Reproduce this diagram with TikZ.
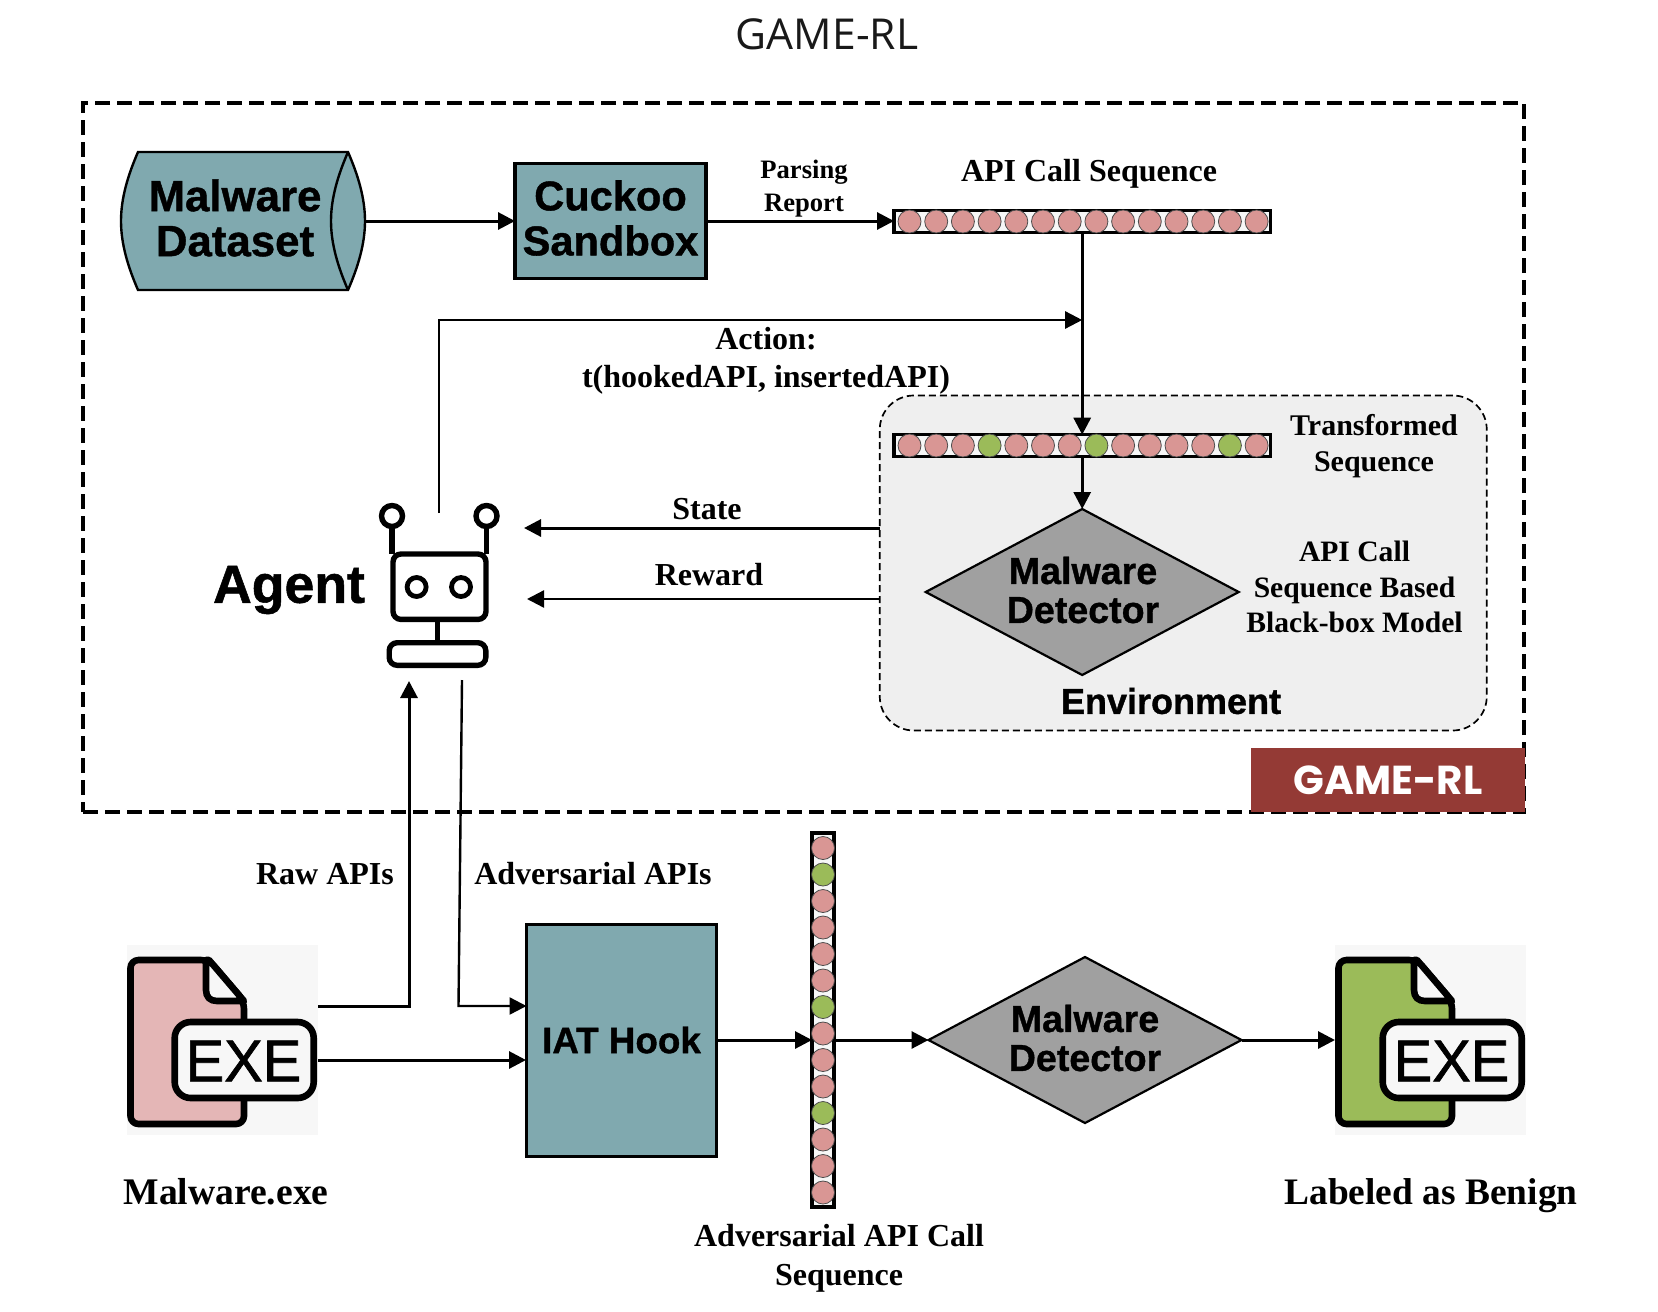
\documentclass[tikz,border=0pt]{standalone}
\usepackage{fontspec}
\usepackage{graphicx}
\setmainfont{Liberation Serif}
\setsansfont{Liberation Sans}[BoldFeatures={FakeBold=1}]
\newfontfamily\titlefont{Open Sans}
\newfontfamily\boxfont{Poppins}
\newfontfamily\exefont{Liberation Sans}[FakeBold=1.2]
\usetikzlibrary{arrows.meta,shapes.geometric,calc}
\definecolor{tealbox}{HTML}{80A9AF}
\definecolor{diamondgray}{HTML}{A0A0A0}
\definecolor{envgray}{HTML}{EFEFEF}
\definecolor{pinkdot}{HTML}{D99694}
\definecolor{greendot}{HTML}{9BBB59}
\definecolor{redbox}{HTML}{943A35}
\definecolor{pinkfile}{HTML}{E4B6B6}
\definecolor{iconbg}{HTML}{F7F7F7}
\newcommand{\fs}[2]{\fontsize{#1pt}{#2pt}\selectfont}
\tikzset{
  every node/.style={inner sep=0pt,outer sep=0pt},
  flow/.style={line width=1.5pt,-{Triangle[length=8.5pt,width=8.5pt]}},
  thinflow/.style={line width=1.2pt,-{Triangle[length=8.5pt,width=8.5pt]}},
  sanslabel/.style={font=\sffamily\bfseries,align=center},
  seriflabel/.style={font=\rmfamily\bfseries,align=center},
  detector/.style={diamond,aspect=1.9,draw,line width=1.1pt,fill=diamondgray,minimum width=156.5pt,minimum height=83pt},
  seqbar/.style={draw,line width=1.6pt,fill=iconbg},
  seqdot/.style={circle,draw=black!70,line width=.4pt,fill=pinkdot,minimum size=11.5pt},
  seqgreen/.style={seqdot,fill=greendot},
  robot/.style={draw,line width=2.7pt},
  filestroke/.style={draw,line width=3.3pt,line join=round},
}
\newcommand{\exeicon}[3]{% name, x shift, fill
  \begin{scope}[shift={(#2,0)}]
    \node[fill=iconbg,minimum width=95.5pt,minimum height=95pt] (#1) at (222.5,1040) {};
    \draw[filestroke,fill=#3,rounded corners=4pt] (130.5,960) -- (209,960) -- (244,1001) -- (244,1124) -- (130.5,1124) -- cycle;
    \draw[filestroke,fill=iconbg,line join=round] (209,960) -- (244,1001) -- (217,1001)
      .. controls (210,1001) and (206,997) .. (206,990) -- (206,960) -- cycle;
    \node[filestroke,fill=iconbg,rounded corners=8pt,minimum width=69.5pt,minimum height=38pt] (#1label) at (244.2,1060) {};
    \node[font=\exefont\fs{29.5}{30}] (#1text) at (243.5,1061) {\scalebox{.98}[1]{EXE}};
  \end{scope}
}
\begin{document}
\begin{tikzpicture}[x=.5pt,y=-.5pt]
\useasboundingbox (0,0) rectangle (1658,1311);

% title
\node[font=\titlefont\fs{21.3}{24},text=black!90] (title) at (827,34) {GAME-RL};

% outer frame
\node[draw,dash pattern=on 7.5pt off 3.5pt,line width=1.6pt,minimum width=720.5pt,minimum height=354.5pt] (frame) at (803.5,457.5) {};
\node[fill=redbox,minimum width=137pt,minimum height=32pt,text=white,font=\boxfont\bfseries\fs{20.2}{24}] (gamebox) at (1388,780) {GAME-RL};

% environment
\node[draw,fill=envgray,dash pattern=on 3.5pt off 2pt,line width=.85pt,rounded corners=17pt,minimum width=303.5pt,minimum height=167.5pt] (env) at (1183.25,563) {};
\node[sanslabel,font=\sffamily\bfseries\fs{18}{20}] (envtext) at (1171,701) {Environment};

% top row
\draw[line width=1.2pt,fill=tealbox] (138,152) -- (348,152) .. controls (358,175) and (365,198) .. (365,221)
  .. controls (365,244) and (358,267) .. (348,290) -- (138,290) .. controls (128,267) and (121,244) .. (121,221)
  .. controls (121,198) and (128,175) .. (138,152) -- cycle;
\draw[line width=1.2pt] (348,152) .. controls (338,175) and (331,198) .. (331,221) .. controls (331,244) and (338,267) .. (348,290);
\node[minimum width=122pt,minimum height=69pt] (dataset) at (243,221) {};
\node[sanslabel,font=\sffamily\bfseries\fs{21.9}{22.5}] (datasettext) at (235,218) {Malware\\Dataset};
\node[draw,line width=1.8pt,fill=tealbox,minimum width=95.5pt,minimum height=57.5pt] (cuckoo) at (610.5,221) {};
\node[sanslabel,font=\sffamily\bfseries\fs{20.8}{22.5}] (cuckootext) at (610.5,218) {Cuckoo\\Sandbox};
\node[seriflabel,font=\rmfamily\bfseries\fs{13.3}{16.5}] (parsing) at (804,188.5) {Parsing\\Report};
\node[seriflabel,font=\rmfamily\bfseries\fs{16}{18}] (apilabel) at (1089,174) {API Call Sequence};

\node[seqbar,minimum width=188.2pt,minimum height=10.8pt] (seqA) at (1082.2,221.5) {};
\foreach \i in {0,...,13} \node[seqdot] (a\i) at ({909.5+26.7*\i},221.5) {};

\node[seqbar,minimum width=188.2pt,minimum height=10.8pt] (seqB) at (1082.2,445.5) {};
\foreach \i/\c in {0/seqdot,1/seqdot,2/seqdot,3/seqgreen,4/seqdot,5/seqdot,6/seqdot,7/seqgreen,8/seqdot,9/seqdot,10/seqdot,11/seqdot,12/seqgreen,13/seqdot}
  \node[\c] (b\i) at ({909.5+26.7*\i},445.5) {};

\node[seriflabel,font=\rmfamily\bfseries\fs{15}{18}] (transformed) at (1374,446) {Transformed\\Sequence};
\node[detector] (detA) at (1082.2,592) {};
\node[sanslabel,font=\sffamily\bfseries\fs{18.8}{19.5}] (detAtext) at (1083,590) {Malware\\Detector};
\node[seriflabel,font=\rmfamily\bfseries\fs{14.8}{17.7}] (blackbox) at (1354.5,587) {API Call\\Sequence Based\\Black-box Model};

\draw[flow] (dataset.east) -- (cuckoo.west);
\draw[flow] (cuckoo.east) -- (cuckoo.east -| seqA.west);
\draw[flow] (seqA.south) -- (seqB.north);
\draw[flow] (seqB.south) -- (detA.north);

% agent
\node[font=\sffamily\bfseries\fs{26.8}{28}] (agent) at (289,590) {Agent};
\node[circle,robot,minimum size=10.5pt] (antL) at (392,516) {};
\node[circle,robot,minimum size=10.5pt] (antR) at (486.5,516) {};
\node[robot,rounded corners=4pt,minimum width=46.5pt,minimum height=32.7pt] (head) at (439.5,586.7) {};
\node[circle,draw,line width=2.4pt,minimum size=9.5pt] (eyeL) at (416.6,587) {};
\node[circle,draw,line width=2.4pt,minimum size=9.5pt] (eyeR) at (461,587) {};
\node[robot,rounded corners=4pt,minimum width=48.3pt,minimum height=11.3pt] (base) at (437.5,654) {};
\draw[robot] (antL.south) -- (antL.south |- head.north);
\draw[robot] (antR.south) -- (antR.south |- head.north);
\draw[robot] (head.south -| base.north) -- (base.north);

\coordinate (agentTop) at (439,513);
\coordinate (join) at (seqA.south |- 0,320);
\coordinate (stateTo) at (524,528);
\coordinate (rewardTo) at (527,599);
\draw[thinflow] (agentTop) |- (join);
\node[seriflabel,font=\rmfamily\bfseries\fs{16}{19}] (action) at (766,361) {Action:\\t(hookedAPI, insertedAPI)};
\draw[flow] (env.west |- stateTo) -- (stateTo);
\draw[thinflow] (env.west |- rewardTo) -- (rewardTo);
\node[seriflabel,font=\rmfamily\bfseries\fs{16}{18}] (state) at (707,509) {State};
\node[seriflabel,font=\rmfamily\bfseries\fs{16}{18}] (reward) at (709,575) {Reward};

% bottom
\exeicon{exeL}{0}{pinkfile}
\exeicon{exeR}{1208}{greendot}
\node[seriflabel,font=\rmfamily\bfseries\fs{18.8}{22}] (malwareexe) at (226,1192) {Malware.exe};
\node[seriflabel,font=\rmfamily\bfseries\fs{18.7}{22}] (benign) at (1431,1196) {Labeled as Benign};

\node[draw,line width=1.5pt,fill=tealbox,minimum width=95pt,minimum height=116pt,sanslabel,font=\sffamily\bfseries\fs{18.4}{20}] (iat) at (621.5,1040) {IAT Hook};

\coordinate (rawTip) at (409,681);
\coordinate (rawBend) at (409,1006);
\coordinate (advStart) at (462,680);
\coordinate (advBend) at (458.5,1006);
\coordinate (exeIn) at (526,1060);
\draw[flow] (rawBend -| exeL.east) -- (rawBend) -- (rawTip);
\draw[thinflow] (advStart) -- (advBend) -- (advBend -| iat.west);
\draw[flow] (exeIn -| exeL.east) -- (exeIn);
\node[seriflabel,font=\rmfamily\bfseries\fs{16}{18}] (rawlabel) at (325,874) {Raw APIs};
\node[seriflabel,font=\rmfamily\bfseries\fs{16}{18}] (advlabel) at (593,874) {Adversarial APIs};

\node[seqbar,minimum width=11pt,minimum height=187pt] (seqC) at (823,1020) {};
\foreach \i/\c in {0/seqdot,1/seqgreen,2/seqdot,3/seqdot,4/seqdot,5/seqdot,6/seqgreen,7/seqdot,8/seqdot,9/seqdot,10/seqgreen,11/seqdot,12/seqdot,13/seqdot}
  \node[\c] (c\i) at (823,{848+26.5*\i}) {};
\node[seriflabel,font=\rmfamily\bfseries\fs{16}{19.5}] (advseq) at (839,1258) {Adversarial API Call\\Sequence};

\node[detector] (detB) at (1085,1040) {};
\node[sanslabel,font=\sffamily\bfseries\fs{18.8}{19.5}] (detBtext) at (1085,1038) {Malware\\Detector};

\draw[flow] (iat.east) -- (iat.east -| seqC.west);
\draw[flow] (iat.east -| seqC.east) -- (detB.west);
\draw[flow] (detB.east) -- (detB.east -| exeR.west);
\end{tikzpicture}
\end{document}
